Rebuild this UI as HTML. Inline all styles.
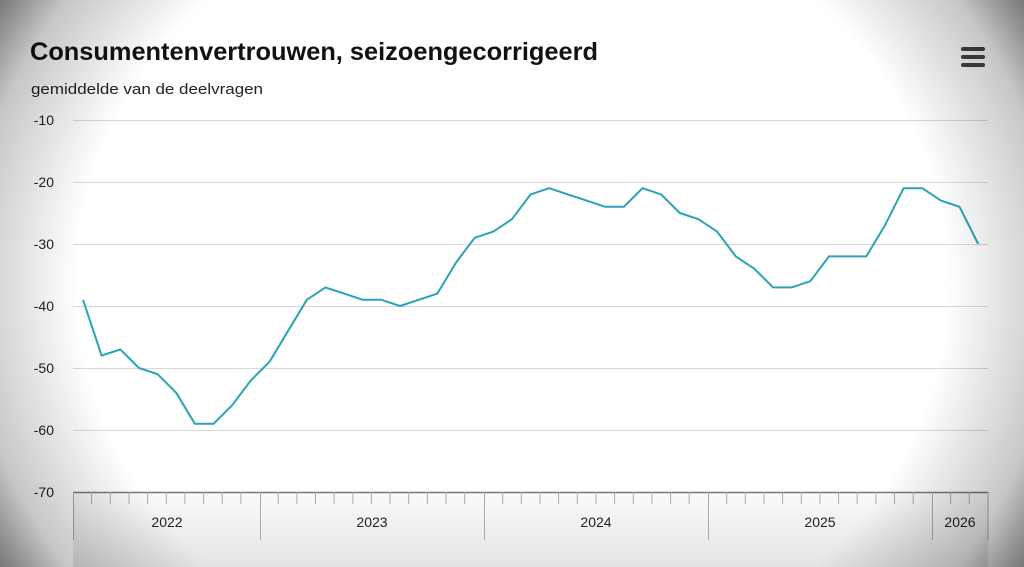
<!DOCTYPE html>
<html><head><style>
html,body{margin:0;padding:0;width:1024px;height:567px;overflow:hidden;background:#fff;}
svg{display:block;font-family:"Liberation Sans",sans-serif;}
</style></head><body>
<svg width="1024" height="567" viewBox="0 0 1024 567">
<defs>
<radialGradient id="vg" cx="512" cy="283" r="640" gradientUnits="userSpaceOnUse" gradientTransform="translate(512 283) scale(1 0.9) translate(-512 -283)">
<stop offset="0.68" stop-color="#000" stop-opacity="0"/>
<stop offset="0.85" stop-color="#000" stop-opacity="0.22"/>
<stop offset="1" stop-color="#000" stop-opacity="0.75"/>
</radialGradient>
<linearGradient id="band" x1="0" y1="0" x2="0" y2="1">
<stop offset="0" stop-color="#fafafa"/><stop offset="1" stop-color="#e4e4e4"/>
</linearGradient>
</defs>
<rect width="1024" height="567" fill="#fff"/>
<rect x="73" y="492" width="915" height="75" fill="url(#band)"/>
<text x="30" y="60" font-size="25" font-weight="bold" fill="#111" textLength="568" lengthAdjust="spacingAndGlyphs">Consumentenvertrouwen, seizoengecorrigeerd</text>
<text x="31" y="94" font-size="15" fill="#222" textLength="232" lengthAdjust="spacingAndGlyphs">gemiddelde van de deelvragen</text>
<g fill="#444">
<rect x="961" y="47" width="24" height="4" rx="2"/><rect x="961" y="55" width="24" height="4" rx="2"/><rect x="961" y="63" width="24" height="4" rx="2"/>
</g>
<g stroke="#d8d8d8" stroke-width="1">
<line x1="73" x2="988" y1="120.5" y2="120.5"/><line x1="73" x2="988" y1="182.5" y2="182.5"/>
<line x1="73" x2="988" y1="244.5" y2="244.5"/><line x1="73" x2="988" y1="306.5" y2="306.5"/>
<line x1="73" x2="988" y1="368.5" y2="368.5"/><line x1="73" x2="988" y1="430.5" y2="430.5"/>
</g>
<g font-size="14" fill="#222" text-anchor="end">
<text x="54" y="125">-10</text><text x="54" y="187">-20</text><text x="54" y="249">-30</text>
<text x="54" y="311">-40</text><text x="54" y="373">-50</text><text x="54" y="435">-60</text><text x="54" y="497">-70</text>
</g>
<line x1="73" x2="988" y1="492.5" y2="492.5" stroke="#777" stroke-width="1.5"/>
<g stroke="#aaa" stroke-width="1">
<path d="M91.6 492v12M110.3 492v12M129 492v12M147.6 492v12M166.3 492v12M184.9 492v12M203.6 492v12M222.2 492v12M240.9 492v12M278.2 492v12M296.8 492v12M315.5 492v12M334.1 492v12M352.8 492v12M371.4 492v12M390 492v12M408.7 492v12M427.4 492v12M446 492v12M464.7 492v12M502.7 492v12M521.3 492v12M540 492v12M558.6 492v12M577.3 492v12M596 492v12M614.6 492v12M633.3 492v12M651.9 492v12M670.6 492v12M689.2 492v12M726.7 492v12M745.3 492v12M764 492v12M782.6 492v12M801.3 492v12M819.9 492v12M838.6 492v12M857.2 492v12M875.9 492v12M894.5 492v12M913.2 492v12M950.6 492v12M969.3 492v12"/>
<path d="M73.5 492v48M260.5 492v48M484.5 492v48M708.5 492v48M932.5 492v48M988 492v48"/>
</g>
<g font-size="14" fill="#222" text-anchor="middle">
<text x="167" y="527">2022</text><text x="372" y="527">2023</text><text x="596" y="527">2024</text><text x="820" y="527">2025</text><text x="960" y="527">2026</text>
</g>
<g transform="translate(83,120) scale(18.65,-6.2) translate(0,10)">
<polyline fill="none" stroke="#2aa3b8" stroke-width="2" vector-effect="non-scaling-stroke" stroke-linejoin="round"
points="0,-39 1,-48 2,-47 3,-50 4,-51 5,-54 6,-59 7,-59 8,-56 9,-52 10,-49 11,-44 12,-39 13,-37 14,-38 15,-39 16,-39 17,-40 18,-39 19,-38 20,-33 21,-29 22,-28 23,-26 24,-22 25,-21 26,-22 27,-23 28,-24 29,-24 30,-21 31,-22 32,-25 33,-26 34,-28 35,-32 36,-34 37,-37 38,-37 39,-36 40,-32 41,-32 42,-32 43,-27 44,-21 45,-21 46,-23 47,-24 48,-30"/>
</g>
<rect width="1024" height="567" fill="url(#vg)"/>
</svg>
</body></html>
